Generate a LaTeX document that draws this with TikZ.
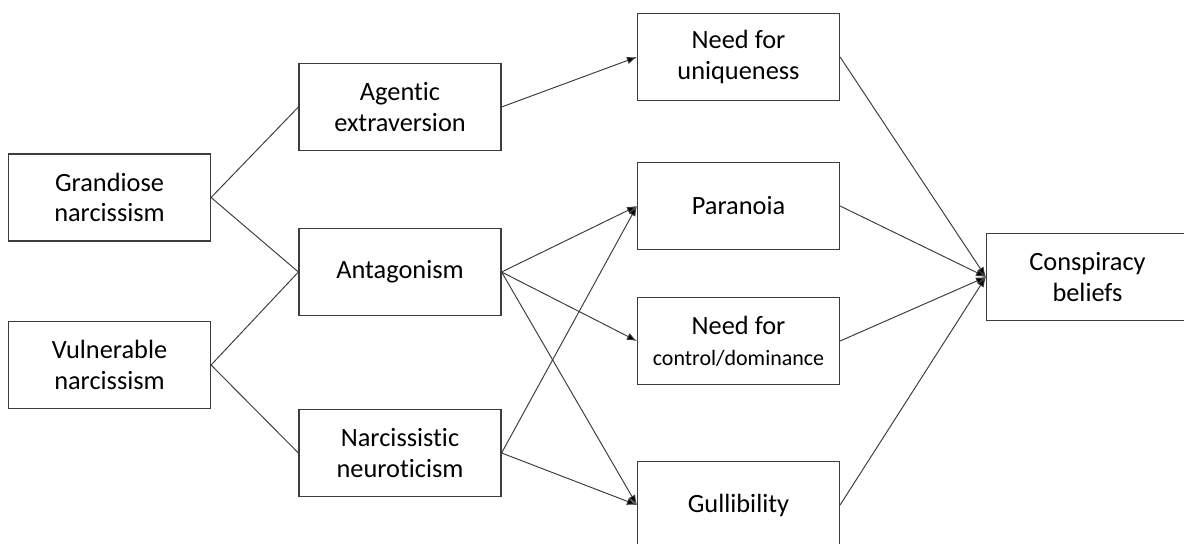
\documentclass[tikz,border=0pt]{standalone}
\usepackage{fontspec}
\setmainfont{Carlito}[Ligatures=NoCommon]
\usepackage{tikz}
\usetikzlibrary{arrows.meta,positioning}
\definecolor{LineGray}{RGB}{60,60,60}
\tikzset{
  var/.style={rectangle,draw=LineGray,line width=0.7pt,minimum width=4.04cm,
              minimum height=1.74cm,align=center,inner sep=2pt,
              font=\fontsize{15}{17.5}\selectfont},
  link/.style={draw=LineGray,line width=0.55pt},
  path/.style={link,-{Latex[length=2mm,width=1.5mm,fill=black]}},
}
\begin{document}
\begin{tikzpicture}[x=0.02cm,y=-0.02cm]
  \useasboundingbox (0,0) rectangle (1184,544);

  % narcissism
  \node[var] (gnar) at (109.5,197.5) {Grandiose\\narcissism};
  \node[var] (vnar) at (109.5,365) {Vulnerable\\narcissism};

  % facets
  \node[var] (agex) at (400,107) {Agentic\\extraversion};
  \node[var] (antg) at (400,272) {Antagonism};
  \node[var] (neur) at (400,453) {Narcissistic\\neuroticism};

  % mediators
  \node[var] (uniq) at (738.5,57) {Need for\\uniqueness};
  \node[var] (para) at (738.5,206) {Paranoia};
  \node[var] (ctrl) at (738.5,341) {Need for\\{\fontsize{12.5}{15}\selectfont control/dominance}};
  \node[var] (gull) at (738.5,505) {Gullibility};

  \node[var] (consp) at (1087.5,277) {Conspiracy\\beliefs};

  \draw[link] (agex.west) -- (gnar.east) -- (antg.west);
  \draw[link] (antg.west) -- (vnar.east) -- (neur.west);

  \draw[path] (agex.east) -- (uniq.west);
  \draw[path] (antg.east) -- (para.west);
  \draw[path] (antg.east) -- (ctrl.west);
  \draw[path] (antg.east) -- (gull.west);
  \draw[path] (neur.east) -- (para.west);
  \draw[path] (neur.east) -- (gull.west);

  \foreach \m in {uniq,para,ctrl,gull}
    \draw[path] (\m.east) -- (consp.west);
\end{tikzpicture}
\end{document}
